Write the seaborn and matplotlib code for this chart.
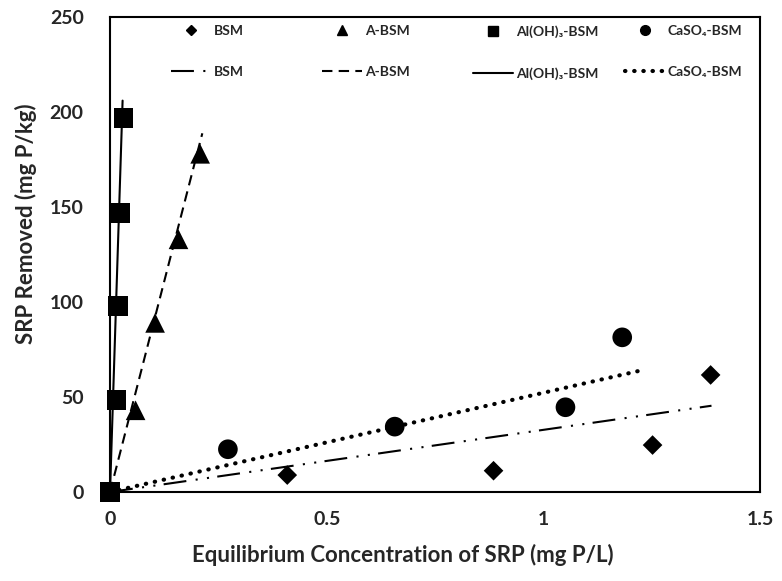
import matplotlib
matplotlib.use("Agg")
import matplotlib.pyplot as plt
from matplotlib.lines import Line2D
import seaborn as sns

# measured points (equilibrium conc. mg P/L, removed mg P/kg)
bsm_x = [0, 0.409, 0.885, 1.252, 1.386]
bsm_y = [0, 8.9, 11.2, 24.7, 61.6]
absm_x = [0, 0.059, 0.104, 0.158, 0.208]
absm_y = [0, 43, 89, 133, 178]
al_x = [0, 0.015, 0.019, 0.023, 0.031]
al_y = [0, 48.5, 98, 147, 197]
ca_x = [0, 0.272, 0.657, 1.051, 1.182]
ca_y = [0, 22.5, 34.4, 44.6, 81.4]

# linear trend lines through origin (start, end)
bsm_fit_x = [0, 1.388]
bsm_fit_y = [0, 45.4]
absm_fit_x = [0, 0.213]
absm_fit_y = [0, 188.8]
al_fit_x = [0, 0.029]
al_fit_y = [0, 206]
ca_fit_x = [0, 1.22]
ca_fit_y = [0, 63.7]

series_names = ["BSM", "A-BSM", "Al(OH)\u2083-BSM", "CaSO\u2084-BSM"]
x_ticks = [0, 0.5, 1, 1.5]
x_tick_labels = ["0", "0.5", "1", "1.5"]
y_ticks = [0, 50, 100, 150, 200, 250]

sns.set_style("white")
plt.rcParams["font.family"] = ["Lato", "DejaVu Sans"]

fig = plt.figure(figsize=(7.82, 5.81), dpi=100)
ax = fig.add_axes([0.1407, 0.1532, 0.8312, 0.8175])

lw = 1.5
dashdot = (0, (11, 4.5, 1, 4.5, 1, 4))
dashed = (0, (5, 3))
dotted = (0, (0.1, 2.1))

sns.lineplot(x=bsm_fit_x, y=bsm_fit_y, ax=ax, color="black", lw=lw, linestyle=dashdot)
sns.lineplot(x=absm_fit_x, y=absm_fit_y, ax=ax, color="black", lw=lw, linestyle=dashed)
sns.lineplot(x=al_fit_x, y=al_fit_y, ax=ax, color="black", lw=lw)
sns.lineplot(x=ca_fit_x, y=ca_fit_y, ax=ax, color="black", lw=3,
             linestyle=dotted, dash_capstyle="round")

sns.scatterplot(x=bsm_x, y=bsm_y, ax=ax, marker="D", s=100, color="black",
                edgecolor="none", zorder=3)
sns.scatterplot(x=absm_x, y=absm_y, ax=ax, marker="^", s=200, color="black",
                edgecolor="none", zorder=3)
sns.scatterplot(x=ca_x, y=ca_y, ax=ax, marker="o", s=200, color="black",
                edgecolor="none", zorder=3)
sns.scatterplot(x=al_x, y=al_y, ax=ax, marker="s", s=200, color="black",
                edgecolor="none", zorder=3)

ax.set_xlim(0, 1.5)
ax.set_ylim(0, 250)
ax.set_xticks(x_ticks)
ax.set_xticklabels(x_tick_labels)
ax.set_yticks(y_ticks)
ax.tick_params(length=0, labelsize=14, pad=14)
ax.tick_params(axis="y", pad=19)
for lab in ax.get_xticklabels() + ax.get_yticklabels():
    lab.set_fontweight("bold")

ax.set_xlabel("Equilibrium Concentration of SRP (mg P/L)", fontsize=16,
              fontweight="bold", labelpad=11)
ax.set_ylabel("SRP Removed (mg P/kg)", fontsize=16, fontweight="bold",
              labelpad=9)
ax.xaxis.label.set_x(0.451)
ax.yaxis.label.set_y(0.565)

for spine in ax.spines.values():
    spine.set_edgecolor("black")
    spine.set_linewidth(1.5)
    spine.set_visible(True)
for c in ax.collections:
    c.set_clip_on(False)

# one small legend per series: marker row on top, trend line row below
markers = [("D", 5), ("^", 7), ("s", 7), ("o", 7)]
line_styles = [dict(ls=dashdot, lw=lw), dict(ls=dashed, lw=lw),
               dict(ls="-", lw=lw),
               dict(ls=dotted, lw=3, dash_capstyle="round")]
col_x = [0.094, 0.326, 0.558, 0.792]
legends = []
for name, (m, ms), st, cx in zip(series_names, markers, line_styles, col_x):
    h = [Line2D([], [], marker=m, ms=ms, color="black", ls="none"),
         Line2D([], [], color="black", **st)]
    leg = ax.legend(h, [name, name], loc="upper left", bbox_to_anchor=(cx, 0.983),
                    frameon=False, borderpad=0, borderaxespad=0,
                    prop={"size": 10, "weight": "bold"}, handlelength=2.9,
                    handletextpad=0.2, labelspacing=2.1)
    legends.append(leg)
for leg in legends[:-1]:
    ax.add_artist(leg)

fig.savefig("out.png", dpi=100)
